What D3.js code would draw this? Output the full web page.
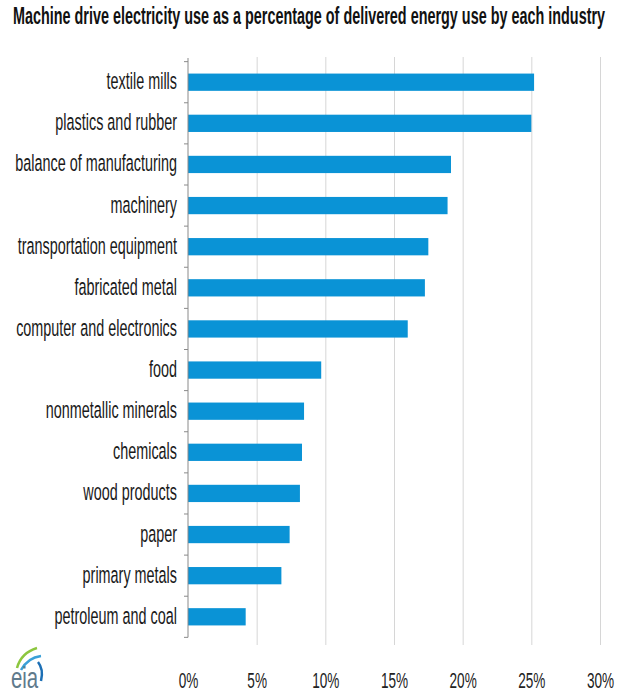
<!DOCTYPE html>
<html>
<head>
<meta charset="utf-8">
<script src="https://cdn.jsdelivr.net/npm/d3@7"></script>
<style>
  body { margin: 0; background: #fff; }
  text { font-family: "Liberation Sans", Arial, sans-serif; }
</style>
</head>
<body>
<svg id="chart" width="618" height="693"></svg>
<script>
// data
const industries = ["textile mills", "plastics and rubber", "balance of manufacturing", "machinery",
  "transportation equipment", "fabricated metal", "computer and electronics", "food",
  "nonmetallic minerals", "chemicals", "wood products", "paper", "primary metals", "petroleum and coal"]
const shares = [25.2, 25.0, 19.15, 18.9, 17.5, 17.25, 16.0, 9.7, 8.45, 8.3, 8.15, 7.4, 6.8, 4.2]
const xTicks = [0, 5, 10, 15, 20, 25, 30]
const title = "Machine drive electricity use as a percentage of delivered energy use by each industry"

const data = industries.map((d, i) => ({ name: d, value: shares[i] }))

// text in the picture is narrow and tall, so squeeze a normal sans
const sx = 0.8, sy = 1.33
function place(px, py) { return `translate(${px},${py}) scale(${sx},${sy})` }

const svg = d3.select('#chart')

let x = d3.scaleLinear().domain([0, 30]).range([188, 600]),
    y = d3.scaleBand().domain(industries).range([60, 639]).paddingInner(0.58).paddingOuter(0.33)

// title
svg.append('text')
    .attr('transform', place(309, 24))
    .attr('text-anchor', 'middle')
    .attr('font-weight', 'bold')
    .attr('font-size', 18)
    .attr('fill', '#111')
    .text(title)

// vertical gridlines + tick labels
let gx = svg.append('g')
    .attr('transform', 'translate(0,645)')
    .call(d3.axisBottom(x).tickValues(xTicks).tickSize(-588).tickFormat(d => d + '%'))
gx.select('.domain').remove()
gx.selectAll('.tick line').attr('stroke', '#d6d6d6')
gx.selectAll('.tick').filter(d => d == 0).select('line').remove()
gx.selectAll('.tick text')
    .attr('y', 0)
    .attr('dy', 0)
    .attr('transform', place(0, 43))
    .attr('font-size', 17)
    .attr('font-family', '"Liberation Sans", Arial, sans-serif')
    .attr('fill', '#222')

// bars
svg.append('g')
    .selectAll('rect')
    .data(data)
    .enter()
    .append('rect')
    .attr('x', x(0))
    .attr('y', d => y(d.name))
    .attr('width', d => x(d.value) - x(0))
    .attr('height', y.bandwidth())
    .attr('fill', '#0a93d6')

// category axis: line with ticks between categories
let step = y.step(),
    edges = industries.map(d => y(d) - (step - y.bandwidth()) / 2)
edges.push(edges[edges.length - 1] + step)

svg.append('line')
    .attr('x1', x(0)).attr('x2', x(0))
    .attr('y1', 58).attr('y2', edges[edges.length - 1])
    .attr('stroke', '#8a8a8a')
svg.append('g')
    .selectAll('line')
    .data(edges)
    .enter()
    .append('line')
    .attr('x1', x(0) - 4).attr('x2', x(0))
    .attr('y1', d => d).attr('y2', d => d)
    .attr('stroke', '#8a8a8a')

// category labels
svg.append('g')
    .selectAll('text')
    .data(data)
    .enter()
    .append('text')
    .attr('transform', d => place(177, y(d.name) + y.bandwidth() / 2 + 7))
    .attr('text-anchor', 'end')
    .attr('font-size', 18)
    .attr('fill', '#1a1a1a')
    .text(d => d.name)

// eia logo
let logo = svg.append('g').attr('transform', 'translate(8,646)')
logo.append('path')
    .attr('d', 'M9,22 C12,11 19,5 29,2')
    .attr('fill', 'none').attr('stroke', '#8cc63f').attr('stroke-width', 2.5)
logo.append('path')
    .attr('d', 'M13,24 C18,15 25,11 33,10')
    .attr('fill', 'none').attr('stroke', '#3aa0d8').attr('stroke-width', 2.5)
logo.append('path')
    .attr('d', 'M30,16 C34,21 35,27 33,35')
    .attr('fill', 'none').attr('stroke', '#1c6fb5').attr('stroke-width', 2.5)
logo.append('text')
    .attr('transform', `translate(3,42) scale(0.85,1.2)`)
    .attr('font-family', '"DejaVu Serif", "Liberation Serif", serif')
    .attr('font-size', 24)
    .attr('fill', '#5f7a8c')
    .text('eia')
</script>
</body>
</html>
